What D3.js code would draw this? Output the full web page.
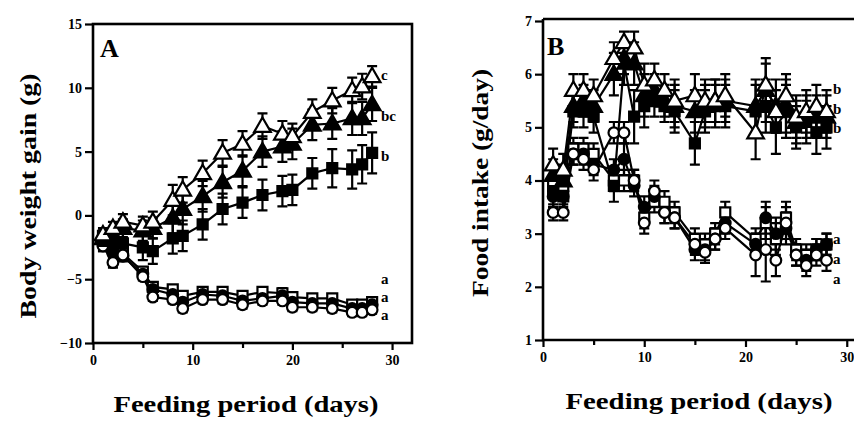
<!DOCTYPE html>
<html><head><meta charset="utf-8">
<script src="https://cdn.jsdelivr.net/npm/d3@7"></script>
<style>body{margin:0;background:#fff}svg{display:block}</style>
</head><body><svg id="c" width="854" height="421"></svg>
<script>
// ---------- Panel A: body weight gain (g) ----------
const daysA = [1,2,3,5,6,8,9,11,13,15,17,19,20,22,24,26,27,28];
const gainOpenTri   = [-1.5,-1.0,-0.5,-0.8,-0.5,1.2,2.0,3.3,4.9,5.6,7.0,6.4,6.2,8.1,9.0,9.8,10.1,10.9];
const semOpenTri    = [0.5,0.5,0.6,0.7,0.8,1.2,1.0,1.0,1.0,1.0,1.0,1.0,1.0,1.0,1.0,1.0,1.0,0.8];
const gainFilledTri = [-1.8,-1.5,-1.0,-1.2,-1.0,-0.2,0.5,1.5,2.6,3.5,5.0,5.4,5.6,7.1,7.2,7.6,7.6,8.7];
const semFilledTri  = [0.6,0.6,0.7,0.8,0.8,1.2,1.2,1.2,1.2,1.2,1.2,1.2,1.2,1.2,1.2,1.3,1.3,1.3];
const gainFilledSq  = [-2.0,-2.2,-2.2,-2.5,-2.8,-1.8,-1.6,-0.7,0.5,1.0,1.6,1.9,2.0,3.3,3.7,3.6,4.0,4.9];
const semFilledSq   = [0.8,0.8,0.8,1.0,1.0,1.2,1.2,1.2,1.2,1.2,1.2,1.2,1.2,1.2,1.5,1.5,1.5,1.6];
const gainOpenSq    = [-1.6,-2.5,-3.0,-4.4,-5.6,-5.8,-6.3,-6.0,-6.0,-6.3,-6.0,-6.1,-6.4,-6.5,-6.5,-7.0,-7.0,-6.8];
const semOpenSq     = [0.4,0.4,0.4,0.3,0.3,0.3,0.3,0.3,0.3,0.3,0.3,0.4,0.3,0.3,0.3,0.3,0.3,0.3];
const gainFilledCir = [-2.0,-3.0,-3.2,-4.6,-5.8,-6.2,-6.8,-6.2,-6.3,-6.7,-6.5,-6.3,-6.8,-6.9,-6.9,-7.3,-7.3,-7.0];
const semFilledCir  = [0.4,0.4,0.4,0.3,0.3,0.3,0.3,0.3,0.3,0.3,0.3,0.4,0.3,0.3,0.3,0.3,0.3,0.3];
const gainOpenCir   = [-2.4,-3.7,-3.1,-4.8,-6.4,-6.6,-7.3,-6.6,-6.6,-7.0,-6.7,-6.7,-7.2,-7.2,-7.3,-7.6,-7.6,-7.4];
const semOpenCir    = [0.4,0.4,0.4,0.3,0.3,0.3,0.3,0.3,0.3,0.3,0.3,0.3,0.3,0.3,0.3,0.3,0.3,0.3];
const ticksAY = [-10,-5,0,5,10,15];
const lettersA = ["c","bc","b","a","a","a"];
const lettersAY = [11.0,7.8,4.7,-5.0,-6.4,-7.8];

// ---------- Panel B: food intake (g/day) ----------
const daysB = [1,2,3,4,5,7,8,9,10,11,12,13,15,16,17,18,21,22,23,24,25,26,27,28];
const foodOpenTri   = [4.3,4.2,5.7,5.7,5.6,6.3,6.6,6.5,5.8,5.9,5.7,5.5,5.6,5.5,5.5,5.6,4.9,5.8,5.3,5.6,5.2,5.3,5.4,5.3];
const semBOpenTri   = [0.3,0.3,0.3,0.3,0.3,0.3,0.2,0.3,0.4,0.3,0.3,0.4,0.4,0.4,0.4,0.4,0.5,0.4,0.4,0.4,0.4,0.4,0.4,0.4];
const foodFilledTri = [4.1,4.0,5.4,5.5,5.4,6.0,6.3,6.2,5.6,5.7,5.5,5.4,5.3,5.4,5.5,5.5,5.4,5.7,5.4,5.4,5.1,5.2,5.2,5.2];
const semBFilledTri = [0.3,0.3,0.3,0.3,0.3,0.4,0.3,0.4,0.4,0.3,0.3,0.4,0.4,0.4,0.4,0.4,0.5,0.6,0.5,0.5,0.4,0.4,0.4,0.4];
const foodFilledSq  = [3.8,3.7,5.3,5.3,5.2,3.9,6.2,5.2,5.4,5.5,5.4,5.3,4.7,5.3,5.4,5.4,5.3,5.4,5.0,5.3,5.0,5.1,4.9,5.0];
const semBFilledSq  = [0.3,0.3,0.3,0.3,0.3,0.3,0.4,0.5,0.4,0.3,0.3,0.4,0.4,0.4,0.4,0.4,0.5,0.5,0.5,0.5,0.4,0.4,0.4,0.4];
const foodFilledCir = [3.7,3.7,4.5,4.5,4.3,4.2,4.4,3.9,3.5,3.7,3.4,3.3,2.7,2.7,2.9,3.2,2.8,3.3,3.0,3.1,2.6,2.5,2.7,2.8];
const semBFilledCir = [0.2,0.2,0.2,0.2,0.2,0.2,0.3,0.2,0.2,0.2,0.2,0.2,0.2,0.2,0.2,0.2,0.2,0.3,0.3,0.3,0.2,0.2,0.2,0.2];
const foodOpenSq    = [3.9,3.9,4.6,4.6,4.5,4.0,4.0,4.0,3.3,3.6,3.6,3.4,2.9,2.8,3.0,3.4,2.9,3.2,2.9,3.3,2.7,2.6,2.7,2.8];
const semBOpenSq    = [0.2,0.2,0.2,0.2,0.2,0.2,0.2,0.2,0.2,0.2,0.2,0.2,0.2,0.2,0.2,0.2,0.2,0.3,0.3,0.3,0.2,0.2,0.2,0.2];
const foodOpenCir   = [3.4,3.4,4.5,4.4,4.2,4.9,4.9,4.0,3.2,3.8,3.4,3.3,2.8,2.65,2.9,3.1,2.6,2.7,2.5,3.2,2.6,2.4,2.6,2.5];
const semBOpenCir   = [0.15,0.15,0.2,0.2,0.2,0.2,0.2,0.2,0.2,0.2,0.2,0.2,0.2,0.2,0.2,0.2,0.4,0.6,0.3,0.3,0.2,0.2,0.2,0.2];
const ticksBY = [1,2,3,4,5,6,7];
const lettersB = ["b","b","b","a","a","a"];
const lettersBY = [5.72,5.35,5.0,2.9,2.52,2.15];

const ticksX = [0,10,20,30];
const ticksXMinor = [5,15,25];

const svg = d3.select("#c");
const FONT = "'Liberation Serif','Tinos','Times New Roman',Times,serif";

function series(days, defs){
  return defs.map(([vals, sem, shape, filled]) => ({shape, filled,
    pts: days.map((d,i)=>({d, v: vals[i], s: sem[i]}))}));
}

function panel(opt){
  const g = svg.append("g");
  const x = d3.scaleLinear().domain([0,32]).range(opt.xr);
  const y = d3.scaleLinear().domain(opt.yd).range(opt.yr);
  if (opt.box) {
    g.append("rect").attr("x",opt.xr[0]).attr("y",opt.yr[1])
      .attr("width",opt.xr[1]-opt.xr[0]).attr("height",opt.yr[0]-opt.yr[1])
      .attr("fill","none").attr("stroke","#000").attr("stroke-width",2.6);
  } else {
    g.append("path").attr("d",`M${opt.xr[0]},${opt.yr[1]-2}H854M${opt.xr[0]},${opt.yr[1]-2}V${opt.yr[0]}H854`)
      .attr("fill","none").attr("stroke","#000").attr("stroke-width",2.6);
  }
  const yAxis = d3.axisLeft(y).tickValues(opt.yticks).tickSize(8).tickPadding(3).tickFormat(d3.format("d"));
  g.append("g").attr("transform",`translate(${opt.xr[0]},0)`).call(yAxis);
  const xAxis = d3.axisBottom(x).tickValues(ticksX).tickSize(7).tickPadding(5).tickFormat(d3.format("d"));
  g.append("g").attr("transform",`translate(0,${opt.yr[0]})`).call(xAxis);
  g.append("g").attr("transform",`translate(0,${opt.yr[0]})`)
    .call(d3.axisBottom(x).tickValues(ticksXMinor).tickSize(5).tickFormat(""));
  g.selectAll(".domain").remove();
  g.selectAll(".tick line").attr("stroke","#000").attr("stroke-width",2.2);
  g.selectAll(".tick text").attr("font-family",FONT).attr("font-weight","bold")
    .attr("font-size",14).attr("fill","#000");

  const line = d3.line().x(p=>x(p.d)).y(p=>y(p.v));
  const sym = {tri: d3.symbolTriangle, sq: d3.symbolSquare, cir: d3.symbolCircle};
  const sz = {tri: 120, sq: 100, cir: 90};
  opt.series.forEach(s=>{
    g.append("path").attr("d",line(s.pts)).attr("fill","none").attr("stroke","#000").attr("stroke-width",2.2);
  });
  opt.series.forEach(s=>{
    const eb = g.append("g").attr("stroke","#000").attr("stroke-width",2.2);
    s.pts.forEach(p=>{
      const xx=x(p.d), y1=y(p.v+p.s), y2=y(p.v-p.s);
      eb.append("path").attr("d",`M${xx},${y1}V${y2}M${xx-5},${y1}H${xx+5}M${xx-5},${y2}H${xx+5}`);
    });
  });
  opt.series.forEach(s=>{
    g.append("g").selectAll("path").data(s.pts).join("path")
      .attr("transform",p=>`translate(${x(p.d)},${y(p.v) + (s.shape==="tri"?1:0)})`)
      .attr("d",d3.symbol().type(sym[s.shape]).size(sz[s.shape]))
      .attr("fill",s.filled?"#000":"#fff").attr("stroke","#000").attr("stroke-width",2.2);
  });
  opt.letters.forEach((t,i)=>{
    g.append("text").attr("x",opt.letterX).attr("y",y(opt.lettersY[i])).attr("dy","0.35em")
      .attr("font-family",FONT).attr("font-weight","bold").attr("font-size",15).text(t);
  });
  g.append("text").attr("x",opt.labelPos[0]).attr("y",opt.labelPos[1])
    .attr("font-family",FONT).attr("font-weight","bold").attr("font-size",26).text(opt.label);
  g.append("text").attr("x",opt.xTitle[0]).attr("y",opt.xTitle[1]).attr("text-anchor","middle")
    .attr("font-family",FONT).attr("font-weight","bold").attr("font-size",24)
    .attr("textLength",opt.xTitle[2]).attr("lengthAdjust","spacingAndGlyphs").text("Feeding period (days)");
  g.append("text").attr("transform",`translate(${opt.yTitle[0]},${opt.yTitle[1]}) rotate(-90)`)
    .attr("text-anchor","middle").attr("font-family",FONT).attr("font-weight","bold").attr("font-size",24)
    .attr("textLength",opt.yTitle[2]).attr("lengthAdjust","spacingAndGlyphs").text(opt.yTitleText);
}

panel({
  xr:[93,412], yd:[-10,15], yr:[343,24], yticks:ticksAY, box:true,
  series: series(daysA, [
    [gainOpenSq, semOpenSq, "sq", false],
    [gainFilledCir, semFilledCir, "cir", true],
    [gainOpenCir, semOpenCir, "cir", false],
    [gainFilledSq, semFilledSq, "sq", true],
    [gainFilledTri, semFilledTri, "tri", true],
    [gainOpenTri, semOpenTri, "tri", false]
  ]),
  letters: lettersA, lettersY: lettersAY, letterX: 381,
  label:"A", labelPos:[100,57],
  xTitle:[246,412,265], yTitle:[36,196,245], yTitleText:"Body weight gain (g)"
});

panel({
  xr:[543,867], yd:[1,7], yr:[340,21], yticks:ticksBY, box:false,
  series: series(daysB, [
    [foodOpenSq, semBOpenSq, "sq", false],
    [foodFilledCir, semBFilledCir, "cir", true],
    [foodOpenCir, semBOpenCir, "cir", false],
    [foodFilledSq, semBFilledSq, "sq", true],
    [foodFilledTri, semBFilledTri, "tri", true],
    [foodOpenTri, semBOpenTri, "tri", false]
  ]),
  letters: lettersB, lettersY: lettersBY, letterX: 833,
  label:"B", labelPos:[547,55],
  xTitle:[699,409,267], yTitle:[488,183,228], yTitleText:"Food intake (g/day)"
});
</script>
</body></html>
